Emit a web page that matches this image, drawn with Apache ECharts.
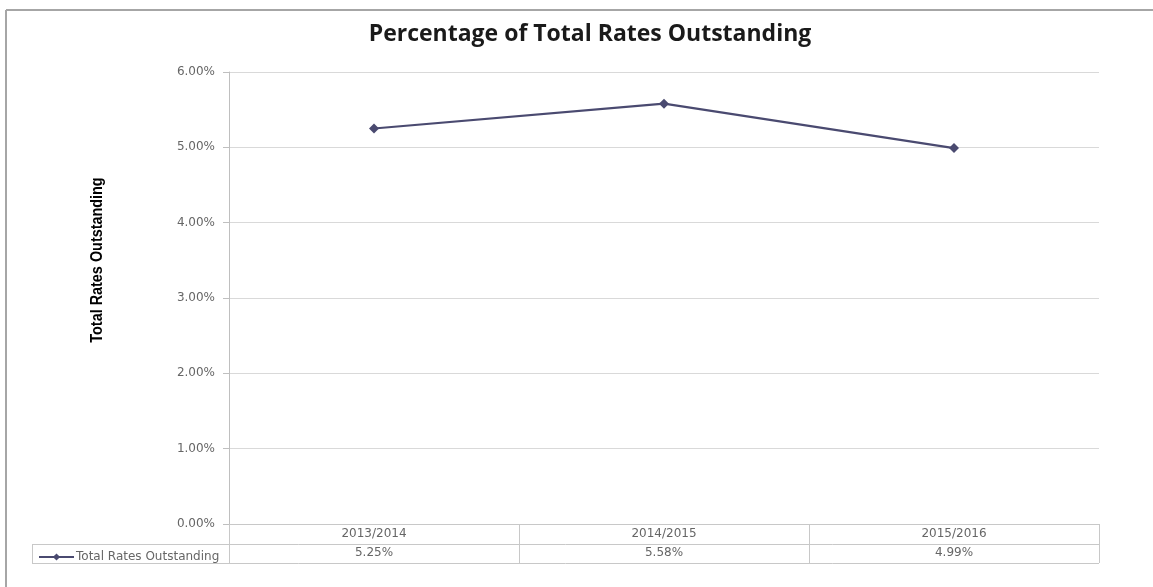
<!DOCTYPE html>
<html><head><meta charset="utf-8">
<script src="https://cdn.jsdelivr.net/npm/echarts@6/dist/echarts.min.js"></script>
<style>html,body{margin:0;padding:0;background:#fff}#c{width:1153px;height:587px}</style>
</head><body><div id="c"></div>
<script>
const categories = ['2013/2014', '2014/2015', '2015/2016'];
const values = [5.25, 5.58, 4.99];
const seriesName = 'Total Rates Outstanding';
const yTicks = [0, 1, 2, 3, 4, 5, 6];
const titleText = 'Percentage of Total Rates Outstanding';
const yAxisTitle = 'Total Rates Outstanding';

const fmt = v => v.toFixed(2) + '%';
const lineColor = '#4a4a70';
const gridColor = '#d9d9d9';
const tableColor = '#c8c8c8';
const labelFont = 'DejaVu Sans';
const labelSize = 12;

const chart = echarts.init(document.getElementById('c'));
chart.setOption({
  animation: false,
  backgroundColor: '#fff',
  title: {
    text: titleText, left: 585, textAlign: 'center', top: 18,
    textStyle: {fontFamily: 'Open Sans', fontWeight: 'bold', fontSize: 23, color: '#1a1a1a'}
  },
  grid: {left: 229, right: 54, top: 72, bottom: 63},
  legend: {
    left: 33, top: 546, itemWidth: 35, itemHeight: 9, itemGap: 2,
    textStyle: {fontFamily: labelFont, fontSize: labelSize, color: '#666', padding: [0, 0, 0, -3]},
    data: [seriesName]
  },
  xAxis: [{
    type: 'category', data: categories, boundaryGap: true, position: 'bottom',
    axisLine: {show: true, lineStyle: {color: tableColor, width: 1}},
    axisTick: {show: true, interval: 0, length: 39, lineStyle: {color: tableColor}},
    axisLabel: {margin: 4, fontFamily: labelFont, fontSize: labelSize, color: '#666'}
  }, {
    type: 'category', data: categories, boundaryGap: true, position: 'bottom', offset: 20,
    axisLine: {show: false}, axisTick: {show: false},
    axisLabel: {margin: 3, fontFamily: labelFont, fontSize: labelSize, color: '#666',
      formatter: (v, i) => fmt(values[i])}
  }],
  yAxis: {
    type: 'value', min: yTicks[0], max: yTicks[yTicks.length - 1], interval: 1,
    axisLine: {show: true, lineStyle: {color: '#bfbfbf'}},
    axisTick: {show: true, length: 6, lineStyle: {color: '#bfbfbf'}},
    axisLabel: {margin: 14, fontFamily: labelFont, fontSize: labelSize, color: '#666', formatter: v => fmt(v)},
    splitLine: {show: true, lineStyle: {color: gridColor, width: 1}}
  },
  series: [{
    name: seriesName, type: 'line', data: values,
    symbol: 'diamond', symbolSize: 10,
    lineStyle: {color: lineColor, width: 2.2},
    itemStyle: {color: lineColor}
  }],
  graphic: [
    {type: 'line', shape: {x1: 6, y1: 10, x2: 1153, y2: 10}, style: {stroke: '#a6a6a6', lineWidth: 2}},
    {type: 'line', shape: {x1: 6, y1: 10, x2: 6, y2: 587}, style: {stroke: '#a6a6a6', lineWidth: 2}},
    {type: 'line', shape: {x1: 32, y1: 544.5, x2: 1099, y2: 544.5}, style: {stroke: tableColor, lineWidth: 1}},
    {type: 'line', shape: {x1: 32, y1: 563.5, x2: 1099, y2: 563.5}, style: {stroke: tableColor, lineWidth: 1}},
    {type: 'line', shape: {x1: 32.5, y1: 544, x2: 32.5, y2: 564}, style: {stroke: tableColor, lineWidth: 1}},
    {type: 'text', x: 98, y: 260, rotation: Math.PI / 2, scaleX: 0.9,
      style: {text: yAxisTitle, fontFamily: 'Liberation Sans', fontWeight: 'bold', fontSize: 16,
        fill: '#000', align: 'center', verticalAlign: 'middle'}}
  ]
});
</script></body></html>
